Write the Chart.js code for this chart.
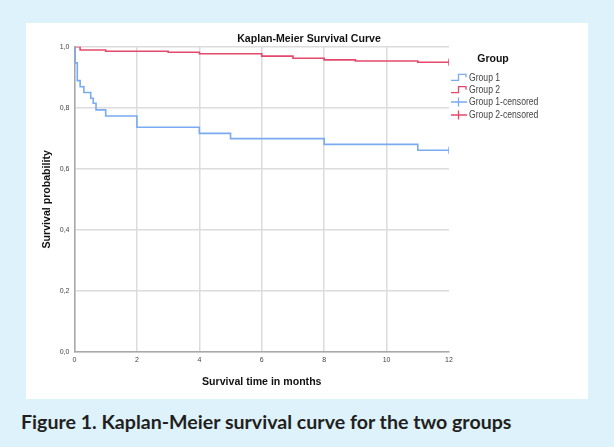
<!DOCTYPE html>
<html><head><meta charset="utf-8">
<script src="https://cdn.jsdelivr.net/npm/chart.js@4.4.0/dist/chart.umd.min.js"></script>
<style>
html,body{margin:0;padding:0;width:614px;height:447px;background:#ddf2fb;overflow:hidden;}
#card{position:absolute;left:26px;top:23px;width:562px;height:376px;background:#fff;}
#c{position:absolute;left:0;top:0;}
#cap{position:absolute;left:21px;top:410px;font-family:Lato,"Open Sans",sans-serif;font-weight:bold;font-size:19.6px;line-height:24px;color:#231f20;white-space:nowrap;}
</style></head><body>
<div id="card"><canvas id="c" width="562" height="376"></canvas></div>
<div id="cap">Figure 1. Kaplan-Meier survival curve for the two groups</div>
<script>
const chartTitle = "Kaplan-Meier Survival Curve";
const xTitle = "Survival time in months";
const yTitle = "Survival probability";
const legendTitle = "Group";
const seriesNames = ["Group 1", "Group 2", "Group 1-censored", "Group 2-censored"];
const group1Times = [0, 0.02, 0.09, 0.18, 0.30, 0.52, 0.60, 0.69, 1.0, 2.0, 4.0, 5.0, 8.0, 11.0, 12];
const group1Surv  = [1.0, 0.947, 0.889, 0.869, 0.850, 0.831, 0.815, 0.793, 0.773, 0.736, 0.716, 0.699, 0.680, 0.661, 0.661];
const group2Times = [0, 0.18, 1.0, 3.0, 4.0, 6.0, 7.0, 8.0, 9.0, 11.0, 12];
const group2Surv  = [1.0, 0.989, 0.985, 0.982, 0.977, 0.969, 0.962, 0.957, 0.953, 0.949, 0.949];
const censor1Times = [12];
const censor1Surv = [0.661];
const censor2Times = [12];
const censor2Surv = [0.949];
const xTicks = [0, 2, 4, 6, 8, 10, 12];
const yTicks = [0, 0.2, 0.4, 0.6, 0.8, 1.0];

const BLUE = "#7aaaf0", RED = "#e4496c";
const FONT = '"Liberation Sans", Arial, sans-serif';
const pts = (xs, ys) => xs.map((x, i) => ({x, y: ys[i]}));

const overlayPlugin = {
  id: 'kmOverlay',
  afterDraw(chart) {
    const ctx = chart.ctx;
    ctx.save();
    // chart title, centred on the whole card
    ctx.font = 'bold 10.6px ' + FONT;
    ctx.fillStyle = '#111';
    ctx.textAlign = 'center';
    ctx.textBaseline = 'middle';
    ctx.fillText(chartTitle, 283, 16);
    // legend
    ctx.font = 'bold 10.5px ' + FONT;
    ctx.fillText(legendTitle, 467, 36);
    const ys = [54.3, 66.7, 79, 92];
    const cols = [BLUE, RED, BLUE, RED];
    ctx.textAlign = 'left';
    for (let i = 0; i < 4; i++) {
      const y = ys[i];
      ctx.strokeStyle = cols[i];
      ctx.lineWidth = 1.3;
      ctx.beginPath();
      if (i < 2) {
        ctx.moveTo(425, y + 3); ctx.lineTo(432.5, y + 3); ctx.lineTo(432.5, y - 3);
        ctx.lineTo(440, y - 3); ctx.lineTo(440, y);
      } else {
        ctx.moveTo(425, y); ctx.lineTo(441, y);
        ctx.moveTo(432.5, y - 4.5); ctx.lineTo(432.5, y + 4.5);
      }
      ctx.stroke();
      ctx.save();
      ctx.translate(443, y + 0.5);
      ctx.scale(0.82, 1);
      ctx.font = '10.5px ' + FONT;
      ctx.fillStyle = '#444';
      ctx.fillText(seriesNames[i], 0, 0);
      ctx.restore();
    }
    ctx.restore();
  }
};

const fmt = v => v.toFixed(1).replace('.', ',');

new Chart(document.getElementById('c'), {
  type: 'scatter',
  data: {
    datasets: [
      {label: seriesNames[0], data: pts(group1Times, group1Surv), showLine: true, stepped: 'before', borderColor: BLUE, borderWidth: 1.6, pointRadius: 0, fill: false},
      {label: seriesNames[1], data: pts(group2Times, group2Surv), showLine: true, stepped: 'before', borderColor: RED, borderWidth: 1.6, pointRadius: 0, fill: false},
      {label: seriesNames[2], data: pts(censor1Times, censor1Surv), showLine: false, pointStyle: 'line', rotation: 90, radius: 3.5, borderColor: BLUE, borderWidth: 1.5},
      {label: seriesNames[3], data: pts(censor2Times, censor2Surv), showLine: false, pointStyle: 'line', rotation: 90, radius: 3.5, borderColor: RED, borderWidth: 1.5}
    ]
  },
  options: {
    responsive: false,
    animation: false,
    layout: {padding: {left: 0, right: 139, top: 23.7, bottom: 0}},
    plugins: {
      legend: {display: false},
      tooltip: {enabled: false},
      title: {display: false}
    },
    scales: {
      x: {
        type: 'linear', min: 0, max: 12,
        afterBuildTicks: s => { s.ticks = xTicks.map(v => ({value: v})); },
        afterFit: s => { s.height = 47; },
        ticks: {color: '#444', font: {family: FONT, size: 7}, padding: 4, maxRotation: 0, autoSkip: false, callback: v => String(v)},
        grid: {drawTicks: false, lineWidth: 1.5, color: ctx => (ctx.tick && ctx.tick.value === 12) ? 'rgba(0,0,0,0)' : '#dcdcdc'},
        border: {display: true, color: '#a8a8a8', width: 1.5},
        title: {display: true, text: xTitle, color: '#111', font: {family: FONT, size: 10.6, weight: 'bold', lineHeight: 1.2}, padding: {top: 0, bottom: 10.5}}
      },
      y: {
        type: 'linear', min: 0, max: 1,
        afterBuildTicks: s => { s.ticks = yTicks.map(v => ({value: v})); },
        afterFit: s => { s.width = 48.5; },
        ticks: {color: '#444', font: {family: FONT, size: 7}, padding: 5, autoSkip: false, callback: v => fmt(v)},
        grid: {drawTicks: false, lineWidth: 1.5, color: '#dcdcdc'},
        border: {display: true, color: '#a8a8a8', width: 1.5},
        title: {display: true, text: yTitle, color: '#111', font: {family: FONT, size: 10.6, weight: 'bold', lineHeight: 1.2}, padding: {top: 14.5, bottom: 0}}
      }
    }
  },
  plugins: [overlayPlugin]
});
</script>
</body></html>
